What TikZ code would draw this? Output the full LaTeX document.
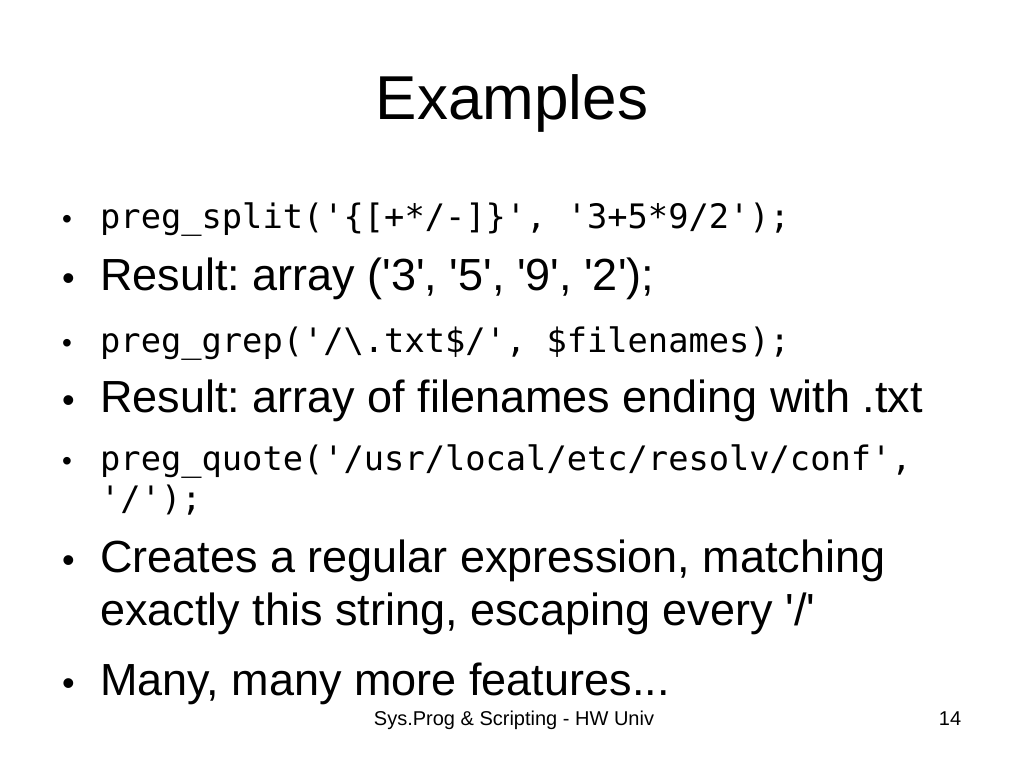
\documentclass[tikz,border=0pt]{standalone}
\usepackage{fontspec}
\setmainfont{Liberation Sans}
\newfontfamily\codefont{DejaVu Sans Mono}
\newcommand{\q}{\textquotesingle}
\frenchspacing
\begin{document}
\begin{tikzpicture}[x=1pt,y=-1pt,
  txt/.style={anchor=base west,inner sep=0pt,font=\fontsize{45}{50}\selectfont},
  code/.style={anchor=base west,inner sep=0pt,font=\fontsize{33.7}{36}\selectfont\codefont},
  bul/.style={anchor=base west,inner sep=0pt,font=\fontsize{36}{40}\selectfont},
  bulc/.style={anchor=base west,inner sep=0pt,font=\fontsize{28}{30}\selectfont}]
\useasboundingbox (0,0) rectangle (1024,768);
\node[anchor=base,inner sep=0pt,font=\fontsize{62}{68}\selectfont] (title) at (512,119) {Examples};
\node[bulc] (b1) at (62,228) {•};
\node[code] (l1) at (100,228) {preg\_split('\{[+*/-]\}', '3+5*9/2');};
\node[bul] (b2) at (62,290) {•};
\node[txt] (l2) at (100,290) {Result: array (\q3\q, \q5\q, \q9\q, \q2\q);};
\node[bulc] (b3) at (62,352) {•};
\node[code] (l3) at (100,352) {preg\_grep('/\textbackslash.txt\$/', \$filenames);};
\node[bul] (b4) at (62,412) {•};
\node[txt] (l4) at (100,412) {Result: array of filenames ending with .txt};
\node[bulc] (b5) at (62,470) {•};
\node[code] (l5) at (100,470) {preg\_quote('/usr/local/etc/resolv/conf',};
\node[code] (l5b) at (100,510) {'/');};
\node[bul] (b6) at (62,572) {•};
\node[txt] (l6) at (100,572) {Creates a regular expression, matching};
\node[txt] (l6b) at (100,625) {exactly this string, escaping every \q/\q};
\node[bul] (b7) at (62,695) {•};
\node[txt] (l7) at (100,695) {Many, many more features...};
\node[anchor=base,inner sep=0pt,font=\fontsize{20}{24}\selectfont] (foot) at (514,725) {Sys.Prog \& Scripting - HW Univ};
\node[anchor=base,inner sep=0pt,font=\fontsize{20}{24}\selectfont] (num) at (950,725) {14};
\end{tikzpicture}
\end{document}
